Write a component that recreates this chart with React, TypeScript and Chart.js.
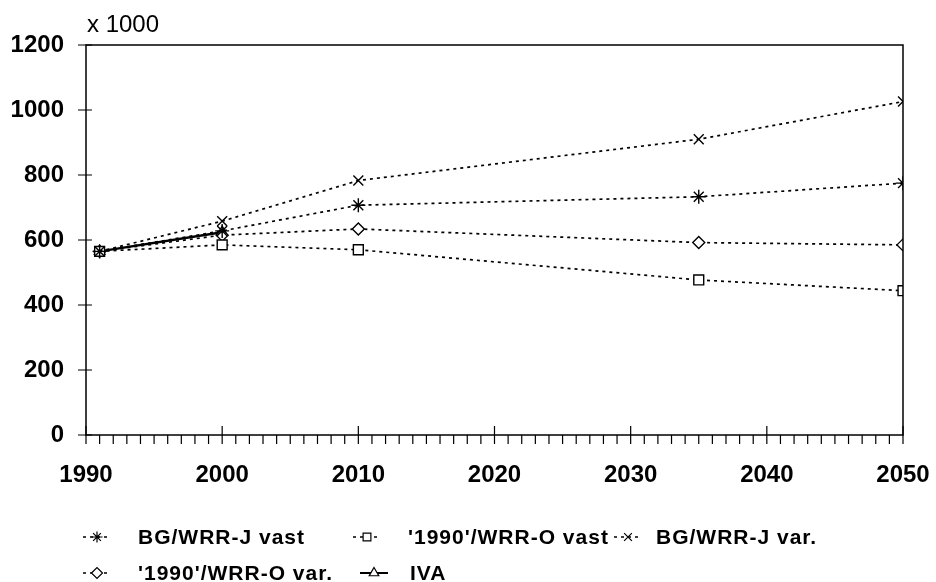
import React, { useEffect, useRef } from "react";
import { Chart, registerables } from "chart.js";
import { drawPoint } from "chart.js/helpers";

Chart.register(...registerables);

const years = [1991, 2000, 2010, 2035, 2050];
const bgVast = [565, 628, 707, 733, 775];
const o90Vast = [565, 585, 570, 477, 444];
const bgVar = [565, 658, 783, 910, 1026];
const o90Var = [565, 615, 634, 592, 585];
const ivaYears = [1991, 2000];
const iva = [565, 624];

const seriesLabels = [
  "BG/WRR-J vast",
  "'1990'/WRR-O vast",
  "BG/WRR-J var.",
  "'1990'/WRR-O var.",
  "IVA",
];
const xTickValues = [1990, 2000, 2010, 2020, 2030, 2040, 2050];
const yTickValues = [0, 200, 400, 600, 800, 1000, 1200];
const unitLabel = "x 1000";

const FONT = "'Liberation Sans', Arial, Helvetica, sans-serif";

const legendPos = [
  { x: 83, tx: 138, y: 537 },
  { x: 353, tx: 408, y: 537 },
  { x: 614, tx: 656, y: 537 },
  { x: 83, tx: 138, y: 573 },
  { x: 360, tx: 410, y: 573 },
];

const toPts = (xs: number[], ys: number[]) => xs.map((x, i) => ({ x, y: ys[i] }));

const framePlugin = {
  id: "frameTicks",
  afterDraw(chart: any) {
    const ctx = chart.ctx as CanvasRenderingContext2D;
    const { left, right, top, bottom } = chart.chartArea;
    const xs = chart.scales.x;
    const ys = chart.scales.y;
    ctx.save();
    ctx.strokeStyle = "#000";
    ctx.lineWidth = 1.5;
    ctx.setLineDash([]);
    ctx.strokeRect(left, top, right - left, bottom - top);
    ctx.lineWidth = 1.2;
    ctx.beginPath();
    for (let yr = xs.min; yr <= xs.max; yr++) {
      const px = xs.getPixelForValue(yr);
      if (yr % 10 === 0) {
        ctx.moveTo(px, bottom - 9);
        ctx.lineTo(px, bottom + 9);
      } else {
        ctx.moveTo(px, bottom);
        ctx.lineTo(px, bottom + 9);
      }
    }
    yTickValues.forEach((v) => {
      const py = ys.getPixelForValue(v);
      ctx.moveTo(left - 8, py);
      ctx.lineTo(left + 6, py);
    });
    ctx.stroke();

    ctx.fillStyle = "#000";
    ctx.font = `24px ${FONT}`;
    ctx.textAlign = "left";
    ctx.textBaseline = "alphabetic";
    ctx.fillText(unitLabel, left + 1, top - 13);

    // legend
    ctx.font = `bold 21px ${FONT}`;
    ctx.textBaseline = "middle";
    chart.data.datasets.forEach((ds: any, i: number) => {
      const p = legendPos[i];
      ctx.save();
      ctx.strokeStyle = "#000";
      ctx.lineWidth = ds.borderDash && ds.borderDash.length ? 1.5 : 2;
      ctx.setLineDash(ds.borderDash || []);
      ctx.beginPath();
      ctx.moveTo(p.x, p.y);
      ctx.lineTo(p.x + 28, p.y);
      ctx.stroke();
      ctx.setLineDash([]);
      ctx.fillStyle = "#fff";
      ctx.lineWidth = 1.2;
      drawPoint(ctx, { pointStyle: ds.pointStyle, radius: 5.5, rotation: 0, borderWidth: 1.2 }, p.x + 14, p.y);
      ctx.restore();
      ctx.save();
      ctx.fillStyle = "#000";
      (ctx as any).letterSpacing = "1px";
      ctx.fillText(ds.label, p.tx, p.y + 1);
      ctx.restore();
    });
    ctx.restore();
  },
};

export default function App() {
  const ref = useRef<HTMLCanvasElement>(null);
  useEffect(() => {
    if (!ref.current) return;
    const dotted = [3, 4];
    const common = {
      borderColor: "#000",
      pointBorderColor: "#000",
      pointBackgroundColor: "#fff",
      pointBorderWidth: 1.4,
      fill: false,
      tension: 0,
    };
    const chart = new Chart(ref.current, {
      type: "line",
      data: {
        datasets: [
          { ...common, label: seriesLabels[0], data: toPts(years, bgVast), borderDash: dotted, borderWidth: 1.7, pointStyle: "star", pointRadius: 7 },
          { ...common, label: seriesLabels[1], data: toPts(years, o90Vast), borderDash: dotted, borderWidth: 1.7, pointStyle: "rect", pointRadius: 7 },
          { ...common, label: seriesLabels[2], data: toPts(years, bgVar), borderDash: dotted, borderWidth: 1.7, pointStyle: "crossRot", pointRadius: 7 },
          { ...common, label: seriesLabels[3], data: toPts(years, o90Var), borderDash: dotted, borderWidth: 1.7, pointStyle: "rectRot", pointRadius: 6 },
          { ...common, label: seriesLabels[4], data: toPts(ivaYears, iva), borderDash: [], borderWidth: 2.4, pointStyle: "triangle", pointRadius: 6 },
        ],
      } as any,
      options: {
        responsive: false,
        animation: false,
        layout: { padding: { top: 45, right: 33, left: 0, bottom: 0 } },
        plugins: { legend: { display: false }, tooltip: { enabled: false }, title: { display: false } },
        scales: {
          x: {
            type: "linear",
            min: 1990,
            max: 2050,
            grid: { display: false, drawTicks: false },
            border: { display: false },
            afterBuildTicks: (s: any) => { s.ticks = xTickValues.map((v) => ({ value: v })); },
            afterFit: (s: any) => { s.height = 147; s.paddingLeft = 0; s.paddingRight = 0; },
            ticks: {
              color: "#000",
              font: { family: FONT, size: 24, weight: "bold" },
              padding: 26,
              maxRotation: 0,
              autoSkip: false,
              callback: (v: any) => String(v),
            },
          },
          y: {
            type: "linear",
            min: 0,
            max: 1200,
            grid: { display: false, drawTicks: false },
            border: { display: false },
            afterBuildTicks: (s: any) => { s.ticks = yTickValues.map((v) => ({ value: v })); },
            afterFit: (s: any) => { s.width = 86; s.paddingTop = 0; s.paddingBottom = 0; },
            ticks: {
              color: "#000",
              font: { family: FONT, size: 24, weight: "bold" },
              padding: 22,
              callback: (v: any) => String(v),
            },
          },
        },
      } as any,
      plugins: [framePlugin],
    });
    return () => chart.destroy();
  }, []);
  return (
    <div style={{ position: "absolute", left: 0, top: 0, width: 936, height: 582, background: "#fff" }}>
      <canvas ref={ref} width={936} height={582} style={{ display: "block" }} />
    </div>
  );
}
